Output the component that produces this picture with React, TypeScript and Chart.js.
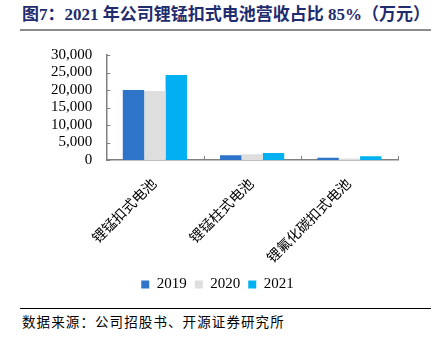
import React, { useEffect, useRef } from "react";
import { Chart, registerables } from "chart.js";

Chart.register(...registerables);

const categories = ["锂锰扣式电池", "锂锰柱式电池", "锂氟化碳扣式电池"];
const seriesNames = ["2019", "2020", "2021"];
const values2019 = [20000, 1350, 650];
const values2020 = [19700, 1650, 450];
const values2021 = [24300, 2000, 1100];
const seriesColors = ["#2E75C9", "#DEDEDE", "#00B0F0"];
const yMax = 30000;
const yStep = 5000;

const SERIF = "'Liberation Serif', 'Times New Roman', 'Noto Sans CJK SC', serif";

const innerTicks = {
  id: "innerTicks",
  afterDraw(chart: any) {
    const { ctx } = chart;
    const x = chart.scales.x;
    const y = chart.scales.y;
    ctx.save();
    ctx.strokeStyle = "#808080";
    ctx.lineWidth = 1;
    ctx.beginPath();
    for (let v = 0; v <= yMax; v += yStep) {
      const py = Math.round(y.getPixelForValue(v)) + 0.5;
      ctx.moveTo(x.left, py);
      ctx.lineTo(x.left + 4, py);
    }
    const n = categories.length;
    for (let i = 1; i <= n; i++) {
      const px =
        i < n
          ? (x.getPixelForValue(i - 1) + x.getPixelForValue(i)) / 2
          : x.right;
      const rx = Math.round(px) + 0.5;
      ctx.moveTo(rx, y.bottom);
      ctx.lineTo(rx, y.bottom - 4);
    }
    ctx.stroke();
    ctx.restore();
  },
};

function BarChart() {
  const ref = useRef<HTMLCanvasElement | null>(null);
  useEffect(() => {
    if (!ref.current) return;
    const chart = new Chart(ref.current, {
      type: "bar",
      data: {
        labels: categories,
        datasets: [values2019, values2020, values2021].map((d, i) => ({
          label: seriesNames[i],
          data: d,
          backgroundColor: seriesColors[i],
          borderWidth: 0,
          categoryPercentage: 0.66,
          barPercentage: 1,
        })),
      },
      options: {
        animation: false,
        responsive: true,
        maintainAspectRatio: false,
        layout: { padding: { left: 37, right: 40, top: 2, bottom: 0 } },
        plugins: {
          title: { display: false },
          tooltip: { enabled: false },
          legend: {
            position: "bottom",
            labels: {
              boxWidth: 8,
              boxHeight: 8,
              padding: 8,
              color: "#000",
              font: { family: SERIF, size: 15 },
            },
          },
        },
        scales: {
          x: {
            grid: { display: false, drawTicks: false },
            border: { display: true, color: "#808080", width: 1.5 },
            afterFit: (scale: any) => {
              scale.height = 109;
            },
            ticks: {
              color: "#000",
              maxRotation: 45,
              minRotation: 45,
              padding: 16,
              autoSkip: false,
              font: { family: SERIF, size: 14 },
            },
          },
          y: {
            min: 0,
            max: yMax,
            grid: { display: false, drawTicks: false },
            border: { display: true, color: "#808080", width: 1.5 },
            ticks: {
              stepSize: yStep,
              autoSkip: false,
              color: "#000",
              padding: 14,
              font: { family: SERIF, size: 15 },
              callback: (v: any) => Number(v).toLocaleString("en-US"),
            },
          },
        },
      },
      plugins: [innerTicks],
    });
    return () => chart.destroy();
  }, []);
  return <canvas ref={ref} />;
}

export default function App() {
  useEffect(() => {
    document.body.style.margin = "0";
  }, []);
  return (
    <div style={{ position: "relative", width: 438, height: 338, background: "#fff", overflow: "hidden" }}>
      <div
        style={{
          position: "absolute",
          left: 22,
          top: 4,
          fontFamily: SERIF,
          fontWeight: "bold",
          fontSize: 17,
          color: "#1F2C6E",
          whiteSpace: "nowrap",
          lineHeight: "22px",
        }}
      >
        图7：2021 年公司锂锰扣式电池营收占比 85%（万元）
      </div>
      <div style={{ position: "absolute", left: 20, top: 29, width: 411, height: 2, background: "#8C8C8C" }} />
      <div style={{ position: "absolute", left: 0, top: 32, width: 438, height: 270 }}>
        <BarChart />
      </div>
      <div style={{ position: "absolute", left: 20, top: 308, width: 411, height: 1, background: "#000" }} />
      <div
        style={{
          position: "absolute",
          left: 22,
          top: 314,
          fontFamily: SERIF,
          fontSize: 13.5,
          color: "#000",
          whiteSpace: "nowrap",
          lineHeight: "18px",
          letterSpacing: 1.1,
        }}
      >
        数据来源：公司招股书、开源证券研究所
      </div>
    </div>
  );
}
